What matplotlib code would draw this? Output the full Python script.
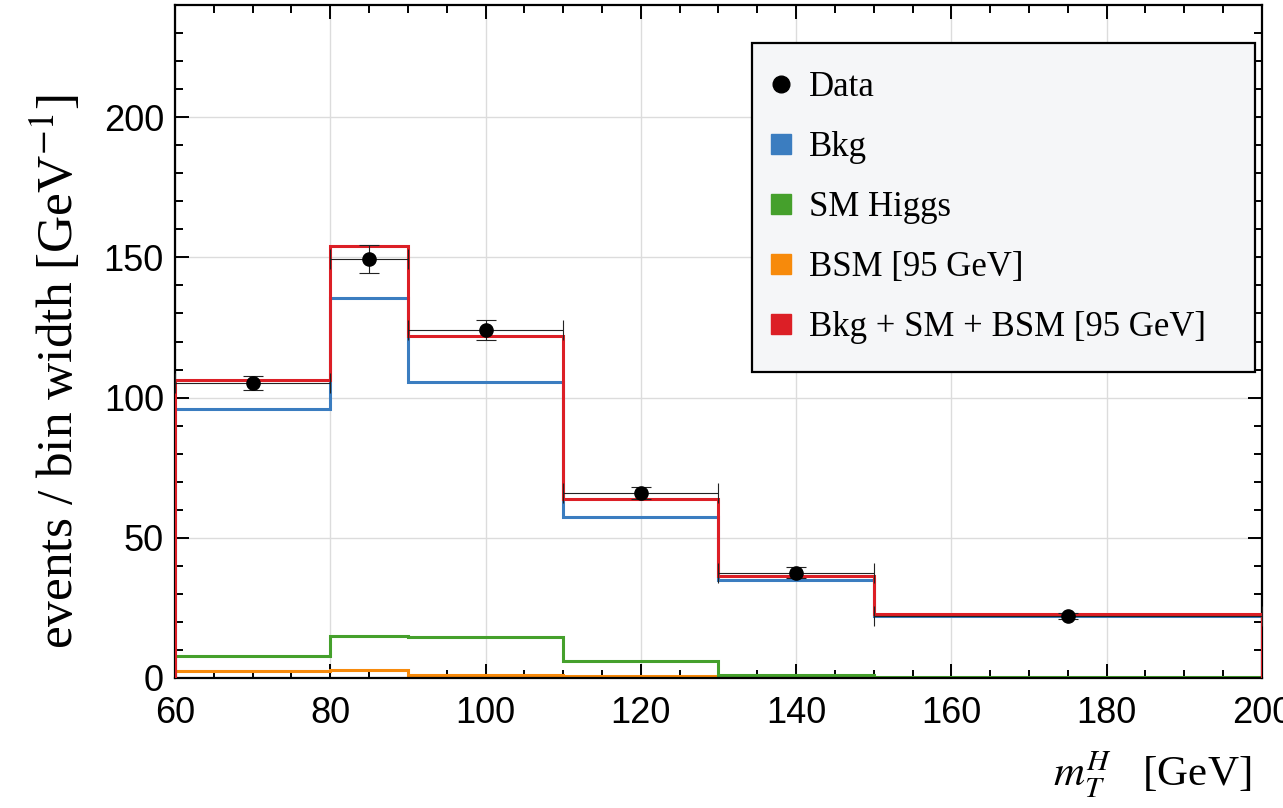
import numpy as np
import matplotlib.pyplot as plt
from matplotlib.lines import Line2D
from matplotlib.ticker import MultipleLocator

# ── binning and histograms (events / bin width) ─────────────────────────────
edges     = [60, 80, 90, 110, 130, 150, 200]
bkg       = [96.0, 135.5, 105.5, 57.5, 35.0, 22.0]
sm_higgs  = [8.0, 15.0, 14.5, 6.0, 1.0, 0.5]
bsm_95    = [2.5, 3.0, 1.2, 0.7, 0.2, 0.1]
total     = [106.3, 154.0, 121.8, 64.0, 36.4, 22.8]

# ── data points ─────────────────────────────────────────────────────────────
data_x    = [70, 85, 100, 120, 140, 175]
data_y    = [105.2, 149.5, 124.0, 66.0, 37.5, 22.2]
data_yerr = [2.5, 5.0, 3.5, 2.0, 2.0, 1.0]
data_xerr = [10, 5, 10, 10, 10, 25]

C_BKG = "#3b7dc0"
C_SM  = "#45a02c"
C_BSM = "#f78a0b"
C_TOT = "#dc1f26"

plt.rcParams["mathtext.fontset"] = "stix"

fig = plt.figure(figsize=(12.83, 8.08), dpi=100)
ax = fig.add_axes([0.1364, 0.1609, 0.8472, 0.8329])

ax.grid(True, which="major", color="#dcdcdc", linewidth=1.0, zorder=0)

ax.stairs(bsm_95, edges, color=C_BSM, linewidth=2.2, zorder=2)
ax.stairs(sm_higgs, edges, color=C_SM, linewidth=2.2, zorder=2)
ax.stairs(bkg, edges, color=C_BKG, linewidth=2.2, zorder=3)
ax.stairs(total, edges, color=C_TOT, linewidth=2.2, zorder=4)

ax.errorbar(data_x, data_y, yerr=data_yerr, xerr=data_xerr, fmt="o",
            color="black", ecolor="#222222", markersize=9.5, elinewidth=0.8,
            capsize=7, capthick=0.8, zorder=5)

ax.set_xlim(60, 200)
ax.set_ylim(0, 240)
ax.xaxis.set_major_locator(MultipleLocator(20))
ax.xaxis.set_minor_locator(MultipleLocator(5))
ax.yaxis.set_major_locator(MultipleLocator(50))
ax.yaxis.set_minor_locator(MultipleLocator(10))
ax.tick_params(which="both", direction="in", top=True, right=True,
               width=1.4, colors="black")
ax.tick_params(which="major", length=10, labelsize=26, pad=8)
ax.tick_params(axis="x", which="major", pad=13)
ax.tick_params(which="minor", length=6)
for lab in ax.get_xticklabels() + ax.get_yticklabels():
    lab.set_family("Liberation Sans")
for sp in ax.spines.values():
    sp.set_linewidth(1.6)

ax.set_ylabel("events / bin width [GeV$^{-1}$]", fontsize=37,
              family="Liberation Serif")
ax.yaxis.set_label_coords(-0.084, 0.455)
ax.set_xlabel(r"$m_T^H$" + "   [GeV]", fontsize=31,
              family="Liberation Serif", loc="right")
ax.xaxis.set_label_coords(0.99, -0.107)

handles = [
    Line2D([], [], marker="o", color="black", linestyle="none", markersize=12),
    Line2D([], [], marker="s", color=C_BKG, linestyle="none", markersize=15),
    Line2D([], [], marker="s", color=C_SM, linestyle="none", markersize=15),
    Line2D([], [], marker="s", color=C_BSM, linestyle="none", markersize=15),
    Line2D([], [], marker="s", color=C_TOT, linestyle="none", markersize=15),
]
labels = ["Data", "Bkg", "SM Higgs", "BSM [95 GeV]", "Bkg + SM + BSM [95 GeV]"]
leg = ax.legend(handles, labels, loc="upper right", mode="expand",
                bbox_to_anchor=(0.5308, 0.5, 0.4628, 0.4435),
                borderaxespad=0.0,
                prop={"family": "Liberation Serif", "size": 25},
                frameon=True, fancybox=False, edgecolor="black",
                facecolor="#f5f6f8", framealpha=1.0, labelspacing=0.78,
                handletextpad=0.8, borderpad=0.8, handlelength=0.05)
leg.get_frame().set_linewidth(1.6)

fig.savefig("out.png", dpi=100)
